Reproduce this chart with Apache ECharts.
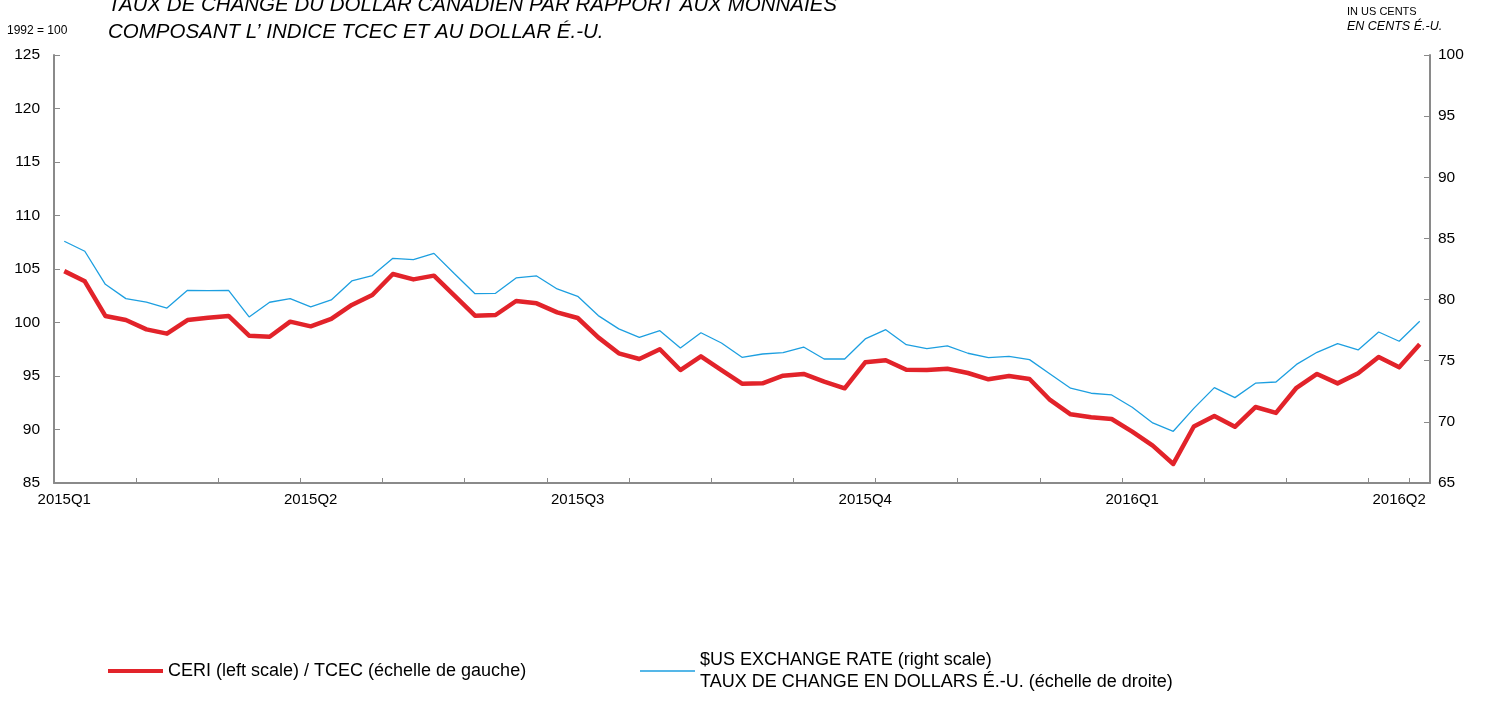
<!DOCTYPE html>
<html>
<head>
<meta charset="utf-8">
<script src="https://cdn.jsdelivr.net/npm/echarts@6/dist/echarts.min.js"></script>
<style>
  html, body { margin: 0; padding: 0; background: #fff; }
  #chart { width: 1494px; height: 705px; }
</style>
</head>
<body>
<div id="chart"></div>
<script>
// Weekly observations (Fridays)
const weeks = [
  '2015-01-02','2015-01-09','2015-01-16','2015-01-23','2015-01-30',
  '2015-02-06','2015-02-13','2015-02-20','2015-02-27',
  '2015-03-06','2015-03-13','2015-03-20','2015-03-27',
  '2015-04-03','2015-04-10','2015-04-17','2015-04-24',
  '2015-05-01','2015-05-08','2015-05-15','2015-05-22','2015-05-29',
  '2015-06-05','2015-06-12','2015-06-19','2015-06-26',
  '2015-07-03','2015-07-10','2015-07-17','2015-07-24','2015-07-31',
  '2015-08-07','2015-08-14','2015-08-21','2015-08-28',
  '2015-09-04','2015-09-11','2015-09-18','2015-09-25',
  '2015-10-02','2015-10-09','2015-10-16','2015-10-23','2015-10-30',
  '2015-11-06','2015-11-13','2015-11-20','2015-11-27',
  '2015-12-04','2015-12-11','2015-12-18','2015-12-25',
  '2016-01-01','2016-01-08','2016-01-15','2016-01-22','2016-01-29',
  '2016-02-05','2016-02-12','2016-02-19','2016-02-26',
  '2016-03-04','2016-03-11','2016-03-18','2016-03-25',
  '2016-04-01','2016-04-08'
];

// Quarter tick labels and the week index where each is written
const xTickText  = ['2015Q1','2015Q2','2015Q3','2015Q4','2016Q1','2016Q2'];
const xTickIndex = [0, 12, 25, 39, 52, 65];

// CERI (left scale), 1992 = 100
const ceri = [
  104.8, 103.85, 100.61, 100.23, 99.36, 98.96, 100.23, 100.45, 100.61, 98.77,
  98.67, 100.08, 99.64, 100.33, 101.64, 102.57, 104.53, 104.03, 104.38, 102.51,
  100.64, 100.70, 102.01, 101.79, 100.95, 100.42, 98.61, 97.12, 96.59, 97.5,
  95.56, 96.84, 95.56, 94.28, 94.32, 95.03, 95.19, 94.47, 93.85, 96.28,
  96.47, 95.59, 95.56, 95.68, 95.28, 94.69, 95.0, 94.72, 92.76, 91.42,
  91.14, 90.98, 89.8, 88.49, 86.78, 90.28, 91.27, 90.25, 92.1, 91.55,
  93.9, 95.19, 94.31, 95.25, 96.78, 95.81, 97.96
];

// $US exchange rate (right scale), US cents
const usd = [
  84.77, 83.95, 81.25, 80.08, 79.8, 79.31, 80.76, 80.73, 80.76, 78.58,
  79.78, 80.08, 79.4, 79.97, 81.52, 81.96, 83.37, 83.26, 83.78, 82.11,
  80.48, 80.51, 81.77, 81.93, 80.87, 80.27, 78.69, 77.6, 76.91, 77.46,
  76.04, 77.29, 76.45, 75.28, 75.55, 75.66, 76.12, 75.14, 75.14, 76.78,
  77.54, 76.31, 75.99, 76.21, 75.61, 75.25, 75.36, 75.09, 73.92, 72.75,
  72.34, 72.2, 71.19, 69.91, 69.23, 71.1, 72.8, 71.98, 73.16, 73.26,
  74.7, 75.69, 76.4, 75.88, 77.35, 76.59, 78.22
];

const leftMin = 85, leftMax = 125, leftStep = 5;
const rightMin = 65, rightMax = 100, rightStep = 5;

const nameCeri = 'CERI (left scale) / TCEC (échelle de gauche)';
const nameUsd = '$US EXCHANGE RATE (right scale)\nTAUX DE CHANGE EN DOLLARS É.-U. (échelle de droite)';

const FONT = '"Liberation Sans", Arial, Helvetica, sans-serif';
const AXIS_GREY = '#8a8a8a';

const chart = echarts.init(document.getElementById('chart'), null, { renderer: 'canvas' });

chart.setOption({
  animation: false,
  backgroundColor: '#ffffff',
  textStyle: { fontFamily: FONT, color: '#000' },
  title: [
    {
      text: 'TAUX DE CHANGE DU DOLLAR CANADIEN PAR RAPPORT AUX MONNAIES\nCOMPOSANT L’ INDICE TCEC ET AU DOLLAR É.-U.',
      left: 108, top: -8, padding: 0,
      textStyle: { fontFamily: FONT, fontSize: 20.5, fontStyle: 'italic', fontWeight: 'normal', lineHeight: 27, color: '#000' }
    },
    {
      text: '1992 = 100', left: 7, top: 25, padding: 0,
      textStyle: { fontFamily: FONT, fontSize: 12, fontWeight: 'normal', color: '#000' }
    },
    {
      text: 'IN US CENTS', left: 1347, top: 6, padding: 0,
      textStyle: { fontFamily: FONT, fontSize: 11, fontWeight: 'normal', color: '#000' }
    },
    {
      text: 'EN CENTS É.-U.', left: 1347, top: 20, padding: 0,
      textStyle: { fontFamily: FONT, fontSize: 12.5, fontStyle: 'italic', fontWeight: 'normal', color: '#000' }
    }
  ],
  legend: [
    {
      data: [nameCeri], left: 108, top: 660, padding: 0,
      icon: 'rect', itemWidth: 55, itemHeight: 4, selectedMode: false,
      textStyle: { fontFamily: FONT, fontSize: 18, color: '#000', lineHeight: 22 }
    },
    {
      data: [nameUsd], left: 640, top: 638, padding: 0,
      icon: 'rect', itemWidth: 55, itemHeight: 1.5, selectedMode: false,
      textStyle: { fontFamily: FONT, fontSize: 18, color: '#000', lineHeight: 22, padding: [22, 0, 0, 0] }
    }
  ],
  grid: { left: 54, right: 64, top: 55, bottom: 222, containLabel: false },
  xAxis: {
    type: 'category',
    data: weeks,
    boundaryGap: true,
    axisLine: { show: true, lineStyle: { color: AXIS_GREY, width: 2 } },
    axisTick: { show: true, inside: true, length: 5, interval: 3, lineStyle: { color: AXIS_GREY, width: 1 } },
    axisLabel: {
      interval: 0, margin: 9, fontSize: 15, color: '#000', fontFamily: FONT,
      formatter: function (v, idx) {
        const k = xTickIndex.indexOf(idx);
        return k >= 0 ? xTickText[k] : '';
      }
    },
    splitLine: { show: false }
  },
  yAxis: [
    {
      type: 'value', position: 'left', min: leftMin, max: leftMax, interval: leftStep,
      axisLine: { show: true, lineStyle: { color: AXIS_GREY, width: 2 } },
      axisTick: { show: true, inside: true, length: 6, lineStyle: { color: AXIS_GREY, width: 1 } },
      axisLabel: { margin: 14, fontSize: 15.5, color: '#000', fontFamily: FONT },
      splitLine: { show: false }
    },
    {
      type: 'value', position: 'right', min: rightMin, max: rightMax, interval: rightStep,
      axisLine: { show: true, lineStyle: { color: AXIS_GREY, width: 2 } },
      axisTick: { show: true, inside: true, length: 6, lineStyle: { color: AXIS_GREY, width: 1 } },
      axisLabel: { margin: 8, fontSize: 15.5, color: '#000', fontFamily: FONT },
      splitLine: { show: false }
    }
  ],
  series: [
    {
      name: nameCeri, type: 'line', yAxisIndex: 0, data: ceri,
      showSymbol: false, symbol: 'none',
      lineStyle: { color: '#e2232a', width: 4.5, join: 'round' },
      itemStyle: { color: '#e2232a' }
    },
    {
      name: nameUsd, type: 'line', yAxisIndex: 1, data: usd,
      showSymbol: false, symbol: 'none',
      lineStyle: { color: '#1d9fe0', width: 1.3 },
      itemStyle: { color: '#1d9fe0' }
    }
  ]
});
</script>
</body>
</html>
